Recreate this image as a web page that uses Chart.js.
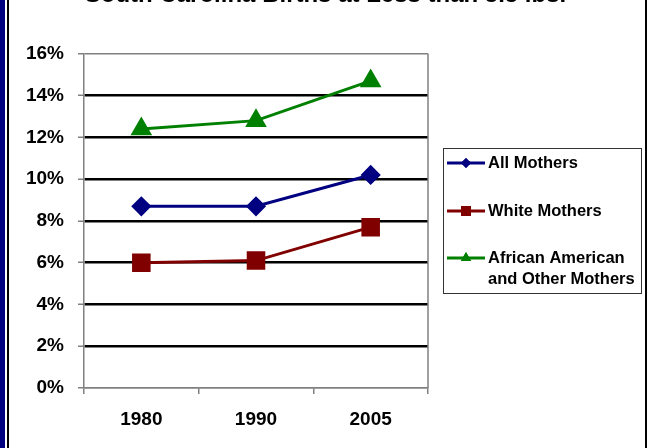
<!DOCTYPE html>
<html>
<head>
<meta charset="utf-8">
<script src="https://cdn.jsdelivr.net/npm/chart.js@4/dist/chart.umd.min.js"></script>
<style>
  html, body { margin: 0; padding: 0; background: #fff; overflow: hidden; }
  body { width: 651px; height: 448px; position: relative; }
  #strip { position: absolute; left: 0; top: 0; width: 5px; height: 448px; background: #000080; }
  #frameL { position: absolute; left: 7px; top: 0; width: 1.5px; height: 448px; background: #000; }
  #frameR { position: absolute; left: 645px; top: 0; width: 1.5px; height: 448px; background: #000; }
  #wrap { position: absolute; left: 0; top: -24px; width: 651px; height: 472px; }
</style>
</head>
<body>
<div id="strip"></div>
<div id="frameL"></div>
<div id="frameR"></div>
<div id="wrap"><canvas id="chart"></canvas></div>
<script>
// percent of births under 5.5 lbs, South Carolina
const years = ['1980', '1990', '2005'];
const allMothers = [8.7, 8.7, 10.2];
const whiteMothers = [6.0, 6.1, 7.7];
const africanAmericanOther = [12.4, 12.8, 14.7];
const seriesNames = ['All Mothers', 'White Mothers', 'African American and Other Mothers'];
const legendLines = [['All Mothers'], ['White Mothers'], ['African American', 'and Other Mothers']];

const grey = '#808080';
const family = '"Liberation Sans", Arial, sans-serif';

// legend box on the right, drawn by hand so the last label can wrap
const boxLegend = {
    id: 'boxLegend',
    afterDraw(chart) {
        const ctx = chart.ctx;
        const x0 = 443, y0 = 172, w = 198, h = 145;
        ctx.save();
        ctx.strokeStyle = '#333';
        ctx.lineWidth = 1;
        ctx.strokeRect(x0 + 0.5, y0 + 0.5, w, h);
        const rows = [187, 235, 282];
        const markerSize = [5, 7, 6];
        chart.data.datasets.forEach((ds, i) => {
            const y = rows[i];
            ctx.strokeStyle = ds.borderColor;
            ctx.lineWidth = 3;
            ctx.beginPath();
            ctx.moveTo(447, y);
            ctx.lineTo(485, y);
            ctx.stroke();
            ctx.fillStyle = ds.backgroundColor;
            Chart.helpers.drawPoint(ctx, { pointStyle: ds.pointStyle, radius: markerSize[i], borderWidth: 0, rotation: 0 }, 466, y);
            ctx.fill();
            ctx.fillStyle = '#000';
            ctx.font = 'bold 16.5px ' + family;
            ctx.textBaseline = 'middle';
            ctx.textAlign = 'left';
            legendLines[i].forEach((t, j) => ctx.fillText(t, 488, y + j * 21));
        });
        // right edge of the plot
        const a = chart.chartArea;
        ctx.strokeStyle = grey;
        ctx.lineWidth = 1.5;
        ctx.beginPath();
        ctx.moveTo(a.right, a.top);
        ctx.lineTo(a.right, a.bottom);
        ctx.stroke();
        ctx.restore();
    }
};

new Chart(document.getElementById('chart'), {
    type: 'line',
    data: {
        labels: years,
        datasets: [{
            label: seriesNames[0],
            data: allMothers,
            borderColor: '#000080',
            backgroundColor: '#000080',
            pointStyle: 'rectRot',
            pointRadius: 8,
            borderWidth: 3
        }, {
            label: seriesNames[1],
            data: whiteMothers,
            borderColor: '#800000',
            backgroundColor: '#800000',
            pointStyle: 'rect',
            pointRadius: 11,
            borderWidth: 3
        }, {
            label: seriesNames[2],
            data: africanAmericanOther,
            borderColor: '#008000',
            backgroundColor: '#008000',
            pointStyle: 'triangle',
            pointRadius: 9.5,
            borderWidth: 3
        }]
    },
    options: {
        responsive: true,
        maintainAspectRatio: false,
        animation: false,
        elements: { line: { tension: 0 }, point: { borderWidth: 0 } },
        layout: { padding: 0 },
        plugins: {
            legend: { display: false },
            tooltip: { enabled: false },
            title: {
                display: true,
                text: 'South Carolina Births at Less than 5.5 lbs.',
                color: '#000',
                font: { family: family, size: 24, weight: 'bold', lineHeight: 1.2 },
                padding: { top: 5, bottom: 44 }
            }
        },
        scales: {
            x: {
                offset: true,
                grid: { offset: true, drawOnChartArea: false, tickLength: 6, tickColor: grey, lineWidth: 1.5 },
                border: { color: grey, width: 1.5 },
                ticks: { color: '#000', font: { family: family, size: 19, weight: 'bold' }, padding: 14 },
                afterFit: s => { s.height = 60; }
            },
            y: {
                min: 0,
                max: 16,
                ticks: {
                    stepSize: 2,
                    color: '#000',
                    padding: 14,
                    font: { family: family, size: 19, weight: 'bold' },
                    callback: v => v + '%'
                },
                grid: {
                    color: c => (c.tick && (c.tick.value === 0 || c.tick.value === 16)) ? grey : '#000',
                    lineWidth: c => (c.tick && (c.tick.value === 0 || c.tick.value === 16)) ? 1.5 : 2.5,
                    tickColor: grey,
                    tickWidth: 1.5,
                    tickLength: 6
                },
                border: { color: grey, width: 1.5 },
                afterFit: s => { s.width = 84; }
            },
            // empty axis that keeps room for the legend box
            legendSpace: {
                type: 'linear',
                position: 'right',
                display: true,
                grid: { display: false, drawTicks: false },
                border: { display: false },
                ticks: { display: false },
                afterFit: s => { s.width = 223; }
            }
        }
    },
    plugins: [boxLegend]
});
</script>
</body>
</html>
